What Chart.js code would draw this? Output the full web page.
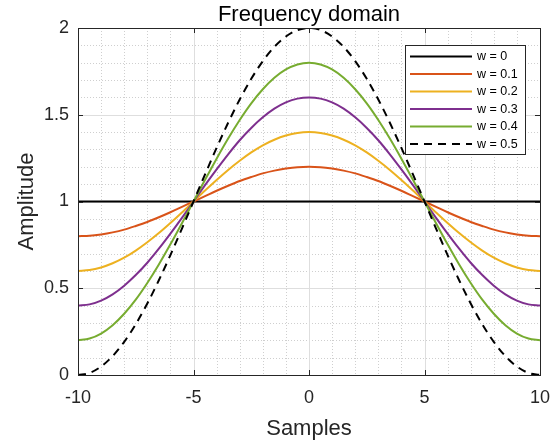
<!DOCTYPE html>
<html>
<head>
<meta charset="utf-8">
<script src="https://cdn.jsdelivr.net/npm/chart.js@4.4.1/dist/chart.umd.min.js"></script>
<style>
html,body{margin:0;padding:0;background:#fff;}
#wrap{width:551px;height:446px;position:relative;}
</style>
</head>
<body>
<div id="wrap"><canvas id="c" width="551" height="446"></canvas></div>
<script>
const samples = [-10,-9.5,-9,-8.5,-8,-7.5,-7,-6.5,-6,-5.5,-5,-4.5,-4,-3.5,-3,-2.5,-2,-1.5,-1,-0.5,0,0.5,1,1.5,2,2.5,3,3.5,4,4.5,5,5.5,6,6.5,7,7.5,8,8.5,9,9.5,10];
const labels = ['w = 0','w = 0.1','w = 0.2','w = 0.3','w = 0.4','w = 0.5'];
const w0  = [1,1,1,1,1,1,1,1,1,1,1,1,1,1,1,1,1,1,1,1,1,1,1,1,1,1,1,1,1,1,1,1,1,1,1,1,1,1,1,1,1];
const w01 = [0.800,0.802,0.810,0.822,0.838,0.859,0.882,0.909,0.938,0.969,1.000,1.031,1.062,1.091,1.118,1.141,1.162,1.178,1.190,1.198,1.200,1.198,1.190,1.178,1.162,1.141,1.118,1.091,1.062,1.031,1.000,0.969,0.938,0.909,0.882,0.859,0.838,0.822,0.810,0.802,0.800];
const w02 = [0.600,0.605,0.620,0.644,0.676,0.717,0.765,0.818,0.876,0.937,1.000,1.063,1.124,1.182,1.235,1.283,1.324,1.356,1.380,1.395,1.400,1.395,1.380,1.356,1.324,1.283,1.235,1.182,1.124,1.063,1.000,0.937,0.876,0.818,0.765,0.717,0.676,0.644,0.620,0.605,0.600];
const w03 = [0.400,0.407,0.429,0.465,0.515,0.576,0.647,0.728,0.815,0.906,1.000,1.094,1.185,1.272,1.353,1.424,1.485,1.535,1.571,1.593,1.600,1.593,1.571,1.535,1.485,1.424,1.353,1.272,1.185,1.094,1.000,0.906,0.815,0.728,0.647,0.576,0.515,0.465,0.429,0.407,0.400];
const w04 = [0.200,0.210,0.239,0.287,0.353,0.434,0.530,0.637,0.753,0.875,1.000,1.125,1.247,1.363,1.470,1.566,1.647,1.713,1.761,1.790,1.800,1.790,1.761,1.713,1.647,1.566,1.470,1.363,1.247,1.125,1.000,0.875,0.753,0.637,0.530,0.434,0.353,0.287,0.239,0.210,0.200];
const w05 = [0.000,0.012,0.049,0.109,0.191,0.293,0.412,0.546,0.691,0.844,1.000,1.156,1.309,1.454,1.588,1.707,1.809,1.891,1.951,1.988,2.000,1.988,1.951,1.891,1.809,1.707,1.588,1.454,1.309,1.156,1.000,0.844,0.691,0.546,0.412,0.293,0.191,0.109,0.049,0.012,0.000];
const xTicks = [-10,-5,0,5,10];
const yTicks = [0,0.5,1,1.5,2];
const yTickLabels = ['0','0.5','1','1.5','2'];

const series = [w0,w01,w02,w03,w04,w05];
const colors = ['#000000','#D95319','#EDB120','#7E2F8E','#77AC30','#000000'];
const dashes = [[],[],[],[],[],[8,6]];
const FONT = "'Liberation Sans', Arial, Helvetica, sans-serif";
const AX = '#262626';

const datasets = series.map((s,i)=>({
  label: labels[i],
  data: samples.map((x,j)=>({x:x,y:s[j]})),
  borderColor: colors[i],
  borderWidth: 2,
  borderDash: dashes[i],
  pointRadius: 0,
  fill: false,
  cubicInterpolationMode: 'monotone',
  order: 6-i
}));

const PL = 78, PR = 540, PT = 28, PB = 375;

const decor = {
  id:'decor',
  beforeDatasetsDraw(chart){
    const {ctx, chartArea:a, scales:{x,y}} = chart;
    ctx.save();
    ctx.lineWidth = 1;
    ctx.strokeStyle = '#cfcfcf';
    ctx.setLineDash([1,2]);
    for(let v=-9; v<=9; v++){ if(v%5===0) continue;
      const px = Math.round(x.getPixelForValue(v))+0.5;
      ctx.beginPath(); ctx.moveTo(px,a.top); ctx.lineTo(px,a.bottom); ctx.stroke(); }
    for(let k=1;k<20;k++){ if(k%5===0) continue;
      const py = Math.round(y.getPixelForValue(k/10))+0.5;
      ctx.beginPath(); ctx.moveTo(a.left,py); ctx.lineTo(a.right,py); ctx.stroke(); }
    ctx.setLineDash([]);
    ctx.strokeStyle = '#dedede';
    xTicks.forEach(v=>{ const px = Math.round(x.getPixelForValue(v))+0.5;
      ctx.beginPath(); ctx.moveTo(px,a.top); ctx.lineTo(px,a.bottom); ctx.stroke(); });
    yTicks.forEach(v=>{ const py = Math.round(y.getPixelForValue(v))+0.5;
      ctx.beginPath(); ctx.moveTo(a.left,py); ctx.lineTo(a.right,py); ctx.stroke(); });
    ctx.restore();
  },
  afterDatasetsDraw(chart){
    const {ctx, chartArea:a, scales:{x,y}} = chart;
    ctx.save();
    ctx.strokeStyle = AX; ctx.lineWidth = 1; ctx.setLineDash([]);
    ctx.strokeRect(Math.round(a.left)+0.5, Math.round(a.top)+0.5, Math.round(a.right-a.left), Math.round(a.bottom-a.top));
    const tl = 5;
    xTicks.forEach(v=>{ const px = Math.round(x.getPixelForValue(v))+0.5;
      ctx.beginPath(); ctx.moveTo(px,a.bottom); ctx.lineTo(px,a.bottom-tl);
      ctx.moveTo(px,a.top); ctx.lineTo(px,a.top+tl); ctx.stroke(); });
    yTicks.forEach(v=>{ const py = Math.round(y.getPixelForValue(v))+0.5;
      ctx.beginPath(); ctx.moveTo(a.left,py); ctx.lineTo(a.left+tl,py);
      ctx.moveTo(a.right,py); ctx.lineTo(a.right-tl,py); ctx.stroke(); });
    ctx.fillStyle = '#000';
    ctx.font = '22px ' + FONT;
    ctx.textAlign = 'center'; ctx.textBaseline = 'alphabetic';
    ctx.fillText('Frequency domain', (a.left+a.right)/2, 21);
    const lx = 405, ly = 45, lw = 120, lh = 109;
    ctx.fillStyle = '#fff';
    ctx.fillRect(lx, ly, lw, lh);
    ctx.strokeStyle = AX; ctx.lineWidth = 1;
    ctx.strokeRect(lx+0.5, ly+0.5, lw, lh);
    chart.data.datasets.forEach((ds,i)=>{
      const cy = 56.5 + i*17.5;
      ctx.strokeStyle = ds.borderColor; ctx.lineWidth = 2;
      ctx.setLineDash(ds.borderDash||[]);
      ctx.beginPath(); ctx.moveTo(410, cy); ctx.lineTo(472, cy); ctx.stroke();
      ctx.setLineDash([]);
      ctx.fillStyle = '#000'; ctx.font = '12.5px ' + FONT;
      ctx.textAlign = 'left'; ctx.textBaseline = 'middle';
      ctx.fillText(ds.label, 477, cy+0.5);
    });
    ctx.restore();
  }
};

new Chart(document.getElementById('c'), {
  type: 'line',
  data: { datasets },
  plugins: [decor],
  options: {
    responsive: false,
    animation: false,
    layout: { padding: { left: 0, right: 551-PR, top: PT, bottom: 0 } },
    plugins: { legend: { display: false }, tooltip: { enabled: false }, title: { display: false } },
    scales: {
      x: {
        type: 'linear', min: -10, max: 10,
        afterBuildTicks: s => { s.ticks = xTicks.map(v=>({value:v})); },
        afterFit: s => { s.height = 446 - PB; s.paddingLeft = 0; s.paddingRight = 0; },
        grid: { display: false, drawTicks: false },
        border: { display: false },
        ticks: { color: AX, font: { family: FONT, size: 18 }, padding: 12, maxRotation: 0, autoSkip: false },
        title: { display: true, text: 'Samples', color: AX, font: { family: FONT, size: 22 }, padding: { top: 0, bottom: 4 } }
      },
      y: {
        type: 'linear', min: 0, max: 2,
        afterBuildTicks: s => { s.ticks = yTicks.map(v=>({value:v})); },
        afterFit: s => { s.width = PL; s.paddingTop = 0; s.paddingBottom = 0; },
        grid: { display: false, drawTicks: false },
        border: { display: false },
        ticks: { color: AX, font: { family: FONT, size: 18 }, padding: 9, autoSkip: false,
                 callback: (v, i) => yTickLabels[yTicks.indexOf(v)] },
        title: { display: true, text: 'Amplitude', color: AX, font: { family: FONT, size: 22 }, padding: { top: 14, bottom: 0 } }
      }
    }
  }
});
</script>
</body>
</html>
